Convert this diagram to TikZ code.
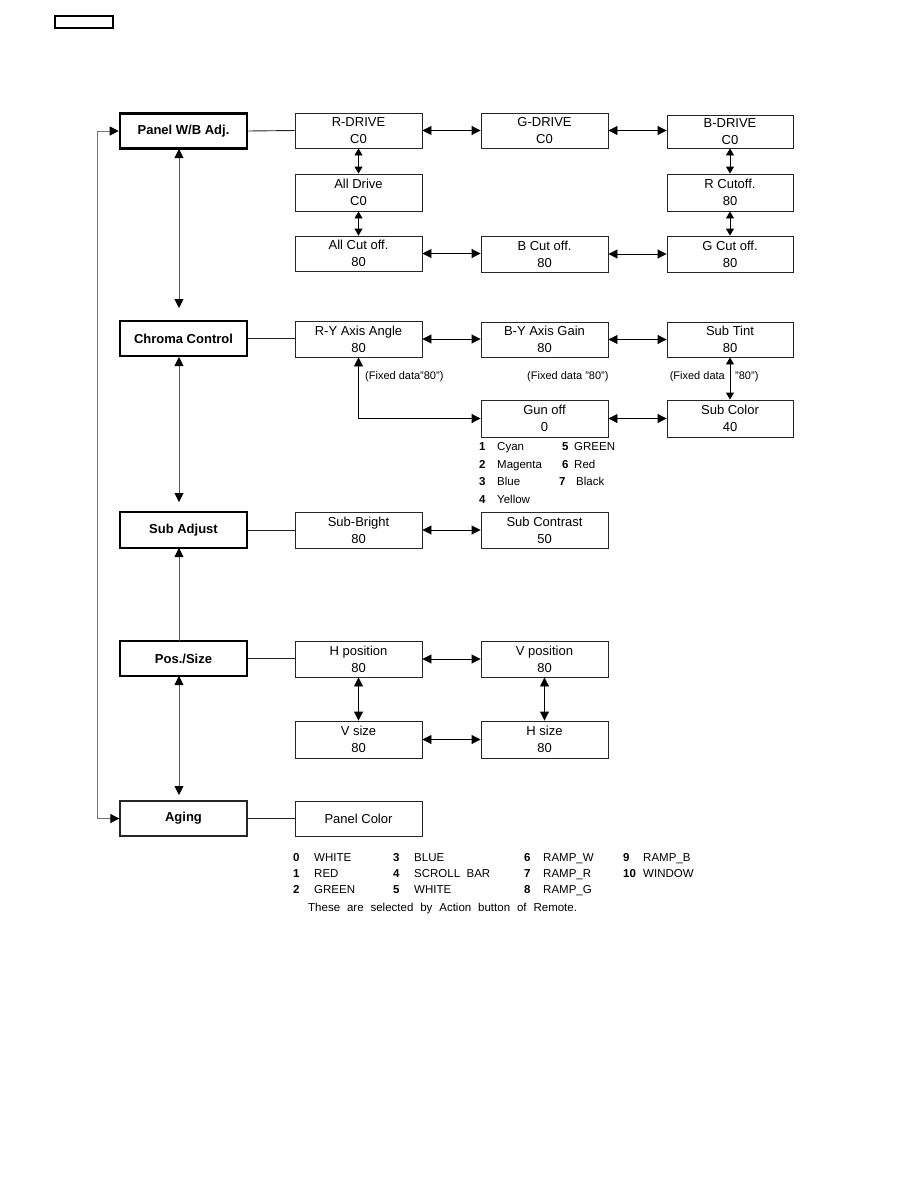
\documentclass[tikz,border=0pt]{standalone}
\usepackage{fontspec}
\setmainfont{Liberation Sans}
\usetikzlibrary{arrows.meta}
\newcommand{\widespc}{\spaceskip=0.6em\relax}
\begin{document}
\begin{tikzpicture}[x=1pt,y=-1pt,
  box/.style={draw=black!85, line width=0.9pt, minimum width=127pt, minimum height=35pt, inner sep=0pt, align=center, font=\fontsize{13}{17}\selectfont},
  mainbox/.style={box, line width=2.6pt, draw=black, font=\fontsize{13}{17}\selectfont\bfseries},
  agebox/.style={box, line width=1.3pt, font=\fontsize{13}{17}\selectfont\bfseries},
  dbl/.style={{Triangle[length=9pt,width=9pt]}-{Triangle[length=9pt,width=9pt]}, line width=0.9pt},
  sdbl/.style={{Triangle[length=7pt,width=8pt]}-{Triangle[length=7pt,width=8pt]}, line width=0.9pt},
  gdbl/.style={{Triangle[length=9pt,width=9pt,color=black]}-{Triangle[length=9pt,width=9pt,color=black]}, line width=0.9pt, draw=black!65},
  gone/.style={-{Triangle[length=9pt,width=9pt,color=black]}, line width=0.9pt, draw=black!65},
  plain/.style={line width=0.9pt, draw=black!85},
  lbl/.style={font=\fontsize{11}{13}\selectfont, inner sep=0pt, anchor=base west},
  num/.style={font=\fontsize{11.5}{13}\selectfont\bfseries, inner sep=0pt, anchor=base west},
  lgl/.style={font=\fontsize{11.5}{13}\selectfont, inner sep=0pt, anchor=base west},
  lbb/.style={font=\fontsize{11.5}{13}\selectfont, inner sep=0pt, anchor=base west},
  nmb/.style={font=\fontsize{11.5}{13}\selectfont\bfseries, inner sep=0pt, anchor=base west}
]
\useasboundingbox (0,0) rectangle (918,1188);
\draw[line width=1.5pt] (55,16) rectangle (113,28);

% Panel W/B
\node[mainbox] (panel) at (183.5,131) {Panel W/B Adj.};
\node[box] (rdrive) at (358.5,130.5) {R-DRIVE\\C0};
\node[box] (gdrive) at (544.5,130.5) {G-DRIVE\\C0};
\node[box, minimum width=126pt, minimum height=33pt] (bdrive) at (730,131.5) {B-DRIVE\\C0};
\node[box, minimum height=37pt] (alldrive) at (358.5,192.5) {All Drive\\C0};
\node[box, minimum width=126pt, minimum height=37pt] (rcut) at (730,192.5) {R Cutoff.\\80};
\node[box] (allcut) at (358.5,253.5) {All Cut off.\\80};
\node[box, minimum height=36pt] (bcut) at (544.5,254) {B Cut off.\\80};
\node[box, minimum width=126pt, minimum height=36pt] (gcut) at (730,254) {G Cut off.\\80};

\draw[plain] (panel.east) -- (rdrive.west);
\draw[dbl] (rdrive.east) -- (gdrive.west);
\draw[dbl] (gdrive.east) -- (bdrive.west |- gdrive.east);
\draw[sdbl] (rdrive.south) -- (alldrive.north);
\draw[sdbl] (alldrive.south) -- (allcut.north);
\draw[sdbl] (bdrive.south) -- (rcut.north);
\draw[sdbl] (rcut.south) -- (gcut.north);
\draw[dbl] (allcut.east) -- (bcut.west |- allcut.east);
\draw[dbl] (bcut.east) -- (gcut.west);

% Chroma
\node[mainbox] (chroma) at (183.5,338.5) {Chroma Control};
\node[box, minimum height=36pt] (ry) at (358.5,339) {R-Y Axis Angle\\80};
\node[box] (by) at (544.5,339.5) {B-Y Axis Gain\\80};
\node[box, minimum width=126pt] (subtint) at (730,339.5) {Sub Tint\\80};
\node[box, minimum height=37pt] (gunoff) at (544.5,418.5) {Gun off\\0};
\node[box, minimum width=126pt, minimum height=37pt] (subcolor) at (730,418.5) {Sub Color\\40};

\draw[plain] (chroma.east) -- (ry.west |- chroma.east);
\draw[dbl] (ry.east) -- (by.west |- ry.east);
\draw[dbl] (by.east) -- (subtint.west);
\draw[sdbl] (subtint.south) -- (subcolor.north);
\draw[dbl] (gunoff.east) -- (subcolor.west);
\coordinate (gbend) at (358.5,418.5);
\draw[dbl] (gunoff.west) -- (gbend) -- (ry.south);

\node[lbl] (fd1) at (365,379) {(Fixed data"80”)};
\node[lbl] (fd2) at (527,379) {(Fixed data "80”)};
\node[lbl, anchor=base east] (fd3a) at (725,379) {(Fixed data};
\node[lbl] (fd3b) at (735,379) {"80”)};

\node[num] (g1n) at (479,450) {1};
\node[lgl] (g1) at (497,450) {Cyan};
\node[num] (g2n) at (479,468) {2};
\node[lgl] (g2) at (497,468) {Magenta};
\node[num] (g3n) at (479,485) {3};
\node[lgl] (g3) at (497,485) {Blue};
\node[num] (g4n) at (479,503) {4};
\node[lgl] (g4) at (497,503) {Yellow};
\node[num] (g5n) at (562,450) {5};
\node[lgl] (g5) at (574,450) {GREEN};
\node[num] (g6n) at (562,468) {6};
\node[lgl] (g6) at (574,468) {Red};
\node[num] (g7n) at (559,485) {7};
\node[lgl] (g7) at (576,485) {Black};

% Sub Adjust
\node[mainbox, minimum height=36pt] (subadj) at (183.5,530) {Sub Adjust};
\node[box, minimum height=36pt] (subbright) at (358.5,530) {Sub-Bright\\80};
\node[box, minimum height=36pt] (subcontrast) at (544.5,530) {Sub Contrast\\50};
\draw[plain] (subadj.east) -- (subbright.west);
\draw[dbl] (subbright.east) -- (subcontrast.west);

% Pos/Size
\node[mainbox] (pos) at (183.5,658.5) {Pos./Size};
\node[box, minimum height=36pt] (hpos) at (358.5,659) {H position\\80};
\node[box, minimum height=36pt] (vpos) at (544.5,659) {V position\\80};
\node[box, minimum height=37pt] (vsize) at (358.5,739.5) {V size\\80};
\node[box, minimum height=37pt] (hsize) at (544.5,739.5) {H size\\80};
\draw[plain] (pos.east) -- (hpos.west |- pos.east);
\draw[dbl] (hpos.east) -- (vpos.west);
\draw[dbl] (hpos.south) -- (vsize.north);
\draw[dbl] (vpos.south) -- (hsize.north);
\draw[dbl] (vsize.east) -- (hsize.west);

% Aging
\node[agebox] (aging) at (183.5,818.5) {Aging};
\node[box] (panelcolor) at (358.5,818.5) {Panel Color};
\draw[plain] (aging.east) -- (panelcolor.west);

\node[nmb] (a0n) at (293,861) {0};
\node[lbb] (a0) at (314,861) {WHITE};
\node[nmb] (a1n) at (293,877) {1};
\node[lbb] (a1) at (314,877) {RED};
\node[nmb] (a2n) at (293,893) {2};
\node[lbb] (a2) at (314,893) {GREEN};
\node[nmb] (a3n) at (393,861) {3};
\node[lbb] (a3) at (414,861) {BLUE};
\node[nmb] (a4n) at (393,877) {4};
\node[lbb] (a4) at (414,877) {SCROLL\ \ BAR};
\node[nmb] (a5n) at (393,893) {5};
\node[lbb] (a5) at (414,893) {WHITE};
\node[nmb] (a6n) at (524,861) {6};
\node[lbb] (a6) at (543,861) {RAMP\_W};
\node[nmb] (a7n) at (524,877) {7};
\node[lbb] (a7) at (543,877) {RAMP\_R};
\node[nmb] (a8n) at (524,893) {8};
\node[lbb] (a8) at (543,893) {RAMP\_G};
\node[nmb] (a9n) at (623,861) {9};
\node[lbb] (a9) at (643,861) {RAMP\_B};
\node[nmb] (a10n) at (623,877) {10};
\node[lbb] (a10) at (643,877) {WINDOW};
\node[lbb] (note) at (308,911) {\widespc These are selected by Action button of Remote.};

% main column
\coordinate (c1) at (179,308);
\coordinate (c2) at (179,502);
\coordinate (c3) at (179,795);
\draw[gdbl] (179,149) -- (c1);
\draw[gdbl] (179,357) -- (c2);
\draw[gone] (179,641) -- (179,548);
\draw[gdbl] (179,676) -- (c3);

% left loop
\coordinate (lt) at (97,131);
\coordinate (lb) at (97,818.5);
\draw[gdbl, draw=black!55] (aging.west) -- (lb) -- (lt) -- (panel.west);
\end{tikzpicture}
\end{document}
